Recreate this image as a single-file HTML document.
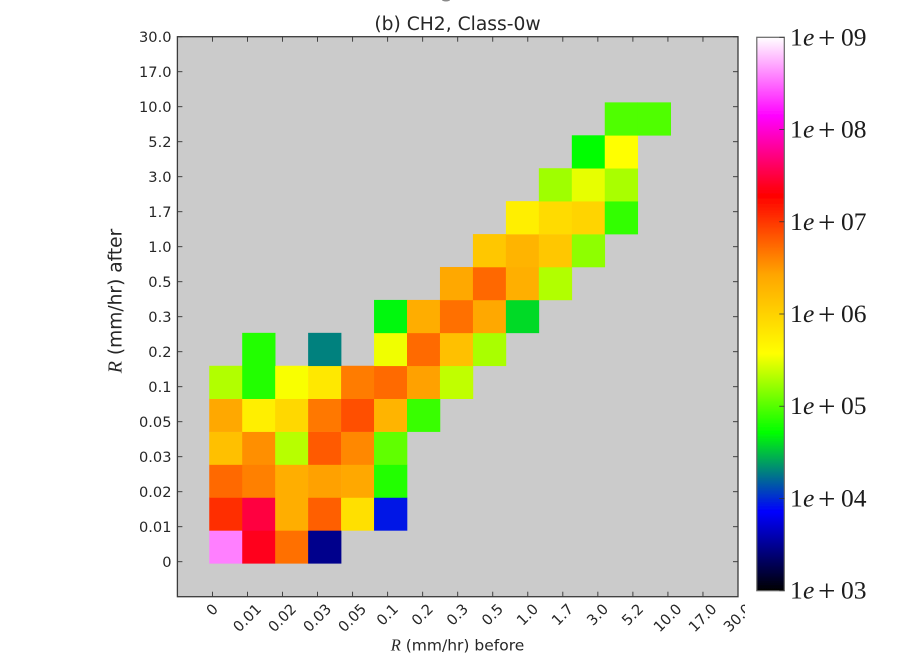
<!DOCTYPE html>
<html lang="en">
<head>
<meta charset="utf-8">
<title>CH2, Class-0w heatmap</title>
<style>
html,body{margin:0;padding:0;background:#fff;}
svg{display:block;}
text{font-family:"DejaVu Sans","Liberation Sans",sans-serif;fill:#262626;}
.serif{font-family:"Liberation Serif",serif;}
</style>
</head>
<body>
<svg id="chart" width="909" height="662" viewBox="0 0 909 662" xmlns="http://www.w3.org/2000/svg">
<defs>
<linearGradient id="cbar-gradient" x1="0" y1="1" x2="0" y2="0"></linearGradient>
<filter id="soft" x="-5%" y="-5%" width="110%" height="110%"><feGaussianBlur stdDeviation="0.35"/></filter>
</defs>
<g id="root" filter="url(#soft)"></g>
</svg>
<script>
// Bin labels shared by both axes
const binLabels = ["0","0.01","0.02","0.03","0.05","0.1","0.2","0.3","0.5","1.0","1.7","3.0","5.2","10.0","17.0","30.0"];
// Colorbar decades (log10 of counts)
const colorbarDecades = [3,4,5,6,7,8,9];
// Colormap anchor colours, evenly spaced from low to high
const colormapColors = ["#000000","#0000ff","#00ff00","#ffff00","#ffa500","#ff0000","#ff00ff","#ffffff"];
// Counts per "after" row (index 0 = row 0). Each row: first column, then consecutive values; null = no data
const rowStartColumn = [0,0,0,0,0,0,1,5,7,8,9,10,11,12];
const rowCounts = [
  [3.7e8,2.45e7,5.13e6,2950],
  [1.1e7,3.16e7,2.19e6,6.17e6,7.41e5,8710],
  [5.5e6,4.17e6,2.19e6,2.82e6,2.51e6,6.61e4],
  [1.48e6,3.47e6,2.14e5,6.61e6,3.8e6,1.1e5],
  [2.51e6,5.25e5,8.71e5,4.57e6,7.41e6,1.91e6,7.94e4],
  [2.04e5,6.61e4,3.55e5,6.17e5,4.37e6,5.37e6,2.82e6,2.29e5],
  [6.61e4,null,1.95e4,null,3.31e5,5.37e6,1.48e6,1.91e5],
  [4.9e4,2.24e6,5.13e6,2.51e6,3.89e4],
  [2.51e6,5.62e6,2.14e6,2.04e5],
  [1.26e6,1.91e6,1.26e6,1.55e5],
  [5.25e5,8.13e5,9.55e5,7.59e4],
  [1.78e5,3.09e5,1.91e5],
  [5.13e4,3.72e5],
  [9.55e4,9.55e4]
];

const SVGNS = "http://www.w3.org/2000/svg";
const root = document.getElementById("root");
const plot = {left:177.4, right:738, top:36.7, bottom:596.7, domainMin:-1, domainMax:15};
const binSpan = 0.9407, binOffsetX = -0.091, binOffsetY = -0.046;
const cbar = {left:756.8, right:784.3, top:37.3, bottom:590.7};

function xScale(v){return plot.left + (v-plot.domainMin)/(plot.domainMax-plot.domainMin)*(plot.right-plot.left);}
function yScale(v){return plot.bottom - (v-plot.domainMin)/(plot.domainMax-plot.domainMin)*(plot.bottom-plot.top);}
function cbarScale(d){
  const lo = colorbarDecades[0], hi = colorbarDecades[colorbarDecades.length-1];
  return cbar.bottom - (d-lo)/(hi-lo)*(cbar.bottom-cbar.top);
}
function hexToRgb(h){return [1,3,5].map(function(i){return parseInt(h.substr(i,2),16);});}
function colorFor(count){
  const lo = colorbarDecades[0], hi = colorbarDecades[colorbarDecades.length-1];
  const t = Math.max(0,Math.min(1,(Math.log10(count)-lo)/(hi-lo)));
  const u = t*(colormapColors.length-1);
  const i = Math.min(Math.floor(u),colormapColors.length-2);
  const a = hexToRgb(colormapColors[i]), b = hexToRgb(colormapColors[i+1]), f = u-i;
  return "rgb("+a.map(function(c,k){return Math.round(c+(b[k]-c)*f);}).join(",")+")";
}
function make(tag,attrs,parent){
  const el = document.createElementNS(SVGNS,tag);
  Object.keys(attrs).forEach(function(k){el.setAttribute(k,attrs[k]);});
  (parent||root).appendChild(el);
  return el;
}

// Descender of a suptitle clipped by the top edge of the figure
const clipped = make("ellipse",{cx:446,cy:0,rx:4,ry:1.5,fill:"#8a8a8a"});



// Plot background
const bg = make("rect",{x:plot.left,y:plot.top,width:plot.right-plot.left,height:plot.bottom-plot.top,fill:"#cbcbcb"});



// Heatmap cells
const cellLayer = make("g",{});


rowCounts.forEach(function(values,r){
  values.forEach(function(count,k){
    if(count===null) return;
    const c = rowStartColumn[r]+k;
    const x0 = xScale(binOffsetX+c*binSpan), x1 = xScale(binOffsetX+(c+1)*binSpan);
    const y1 = yScale(binOffsetY+r*binSpan), y0 = yScale(binOffsetY+(r+1)*binSpan);
    const cell = make("rect",{x:x0,y:y0,width:x1-x0+0.3,height:y1-y0+0.3,fill:colorFor(count)},cellLayer);
    
    
  });
});

// Ticks and tick labels
const tickColor = "#333";
const tickLayer = make("g",{stroke:tickColor,"stroke-width":0.9});


binLabels.forEach(function(label,i){
  const x = xScale(i), y = yScale(i);
  make("line",{x1:x,x2:x,y1:plot.bottom,y2:plot.bottom-5},tickLayer);
  make("line",{x1:x,x2:x,y1:plot.top,y2:plot.top+5},tickLayer);
  make("line",{x1:plot.left,x2:plot.left+5,y1:y,y2:y},tickLayer);
  make("line",{x1:plot.right,x2:plot.right-5,y1:y,y2:y},tickLayer);

  const yl = make("text",{x:171.5,y:y+5.2,"text-anchor":"end","font-size":14.6});
  yl.textContent = label;
  
  

  const xl = make("text",{"text-anchor":"middle","font-size":14.6});
  xl.textContent = label;
  
  
  const w = xl.getComputedTextLength();
  const cy = 602.5 + (w+10.6)*0.7071/2;
  xl.setAttribute("transform","translate("+(x-0.5)+","+cy+") rotate(-45) translate(0,5.2)");
});

// Axes frame
const frame = make("rect",{x:plot.left,y:plot.top,width:plot.right-plot.left,height:plot.bottom-plot.top,fill:"none",stroke:"#3a3a3a","stroke-width":1.3});



// White panel behind the colorbar clips the last x label
const cbarPanel = make("rect",{x:745,y:598,width:164,height:64,fill:"#fff"});



// Title and axis titles
const title = make("text",{x:457.5,y:30,"text-anchor":"middle","font-size":18.7});
title.textContent = "(b) CH2, Class-0w";



const xTitle = make("text",{x:457.5,y:650.5,"text-anchor":"middle","font-size":15.5});
xTitle.innerHTML = '<tspan class="serif" font-style="italic" font-size="16.5">R</tspan> (mm/hr) before';



const yTitle = make("text",{"text-anchor":"middle","font-size":18.6,transform:"translate(121.5,301) rotate(-90)"});
yTitle.innerHTML = '<tspan class="serif" font-style="italic" font-size="20">R</tspan> (mm/hr) after';



// Colorbar
const grad = document.getElementById("cbar-gradient");
colormapColors.forEach(function(c,i){
  const s = document.createElementNS(SVGNS,"stop");
  s.setAttribute("offset",i/(colormapColors.length-1));
  s.setAttribute("stop-color",c);
  grad.appendChild(s);
});
const bar = make("rect",{x:cbar.left,y:cbar.top,width:cbar.right-cbar.left,height:cbar.bottom-cbar.top,fill:"url(#cbar-gradient)",stroke:"#666","stroke-width":1.2});



colorbarDecades.forEach(function(d){
  const y = cbarScale(d);
  const tick = make("line",{x1:cbar.right,x2:cbar.right-5,y1:y,y2:y,stroke:"#333","stroke-width":0.8});
  
  
  const label = make("text",{x:790,y:y+8,"font-size":25.5,"class":"serif"});
  label.style.fill = "#1a1a1a";
  label.innerHTML = '<tspan x="790">1</tspan><tspan font-style="italic" x="803">e</tspan><tspan x="818" dy="2.5" font-size="31">+</tspan><tspan x="841" dy="-2.5">'+String(d).padStart(2,"0")+'</tspan>';
  
  
});
</script>
</body>
</html>
